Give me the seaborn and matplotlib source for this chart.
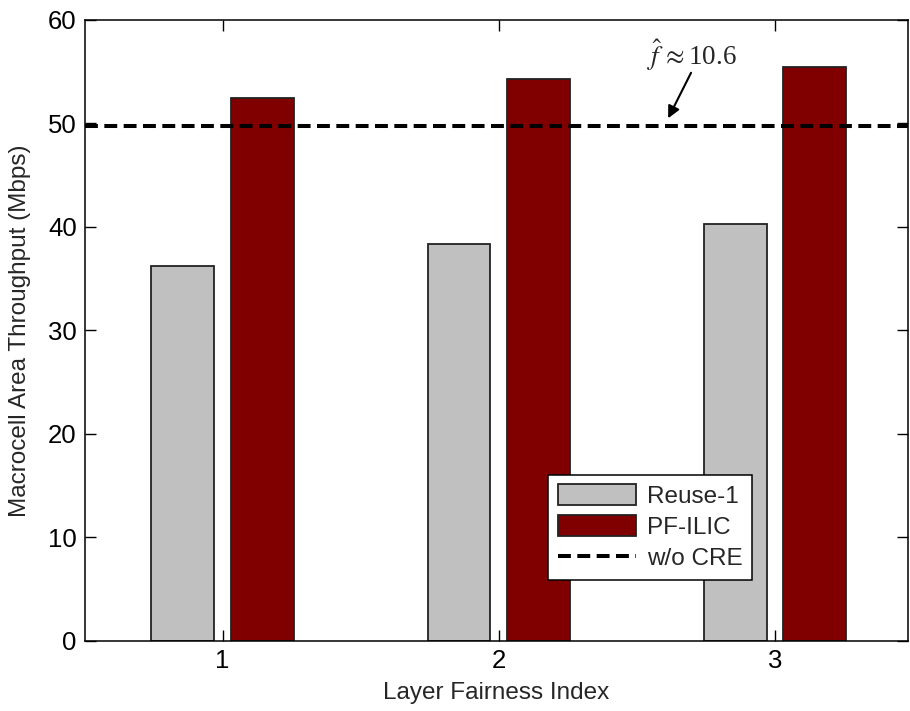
import matplotlib
matplotlib.use("Agg")
import matplotlib.pyplot as plt
import seaborn as sns
import pandas as pd
from matplotlib.patches import Patch
from matplotlib.lines import Line2D

# Macrocell area throughput per layer fairness index
fairness_index = [1, 2, 3]
reuse1 = [36.2, 38.4, 40.3]
pf_ilic = [52.5, 54.3, 55.5]
without_cre = 49.8
schemes = ["Reuse-1", "PF-ILIC"]
colors = ["#C0C0C0", "#800000"]
yticks = [0, 10, 20, 30, 40, 50, 60]

df = pd.DataFrame({
    "index": fairness_index * 2,
    "throughput": reuse1 + pf_ilic,
    "scheme": [schemes[0]] * 3 + [schemes[1]] * 3,
})

sns.set_style("white")
plt.rcParams["font.family"] = ["Liberation Sans", "DejaVu Sans"]
plt.rcParams["mathtext.fontset"] = "stix"

fig = plt.figure(figsize=(9.10, 7.11), dpi=100)
ax = fig.add_axes([0.0934, 0.0985, 0.904, 0.8734])

sns.barplot(data=df, x="index", y="throughput", hue="scheme",
            hue_order=schemes, palette=colors, native_scale=True,
            width=0.576, gap=0.21, edgecolor="#222222", linewidth=1.3,
            saturation=1, legend=False, ax=ax)

ax.axhline(without_cre, color="black", lw=2.9,
           linestyle=(0, (3.2, 1.6)), dash_capstyle="butt", zorder=5)

ax.set_xlim(0.502, 3.48)
ax.set_ylim(0, 60)
ax.set_xticks(fairness_index)
ax.set_xticklabels([str(v) for v in fairness_index])
ax.set_yticks(yticks)
ax.set_xlabel("Layer Fairness Index", fontsize=17.5, labelpad=6)
ax.set_ylabel("Macrocell Area Throughput (Mbps)", fontsize=17.5, labelpad=12)
ax.tick_params(axis="both", which="both", direction="in", length=8,
               width=1, labelsize=18.5, top=True, right=True,
               bottom=True, left=True, pad=6, colors="black")
for sp in ax.spines.values():
    sp.set_visible(True)
    sp.set_color("black")
    sp.set_linewidth(1.1)

# estimate label and pointer to the reference line
ax.text(2.70, 55.65, r"$\hat{f}\,\approx$10.6", ha="center", va="baseline",
        fontsize=19.5, family="Liberation Serif")
ax.annotate("", xy=(2.613, 50.5), xytext=(2.696, 54.9),
            arrowprops=dict(arrowstyle="-|>", color="black", lw=1.5,
                            mutation_scale=18, shrinkA=0, shrinkB=0))

handles = [
    Patch(facecolor=colors[0], edgecolor="#222222", linewidth=1.3, label=schemes[0]),
    Patch(facecolor=colors[1], edgecolor="#222222", linewidth=1.3, label=schemes[1]),
    Line2D([0], [0], color="black", lw=2.9, linestyle=(0, (3.2, 1.6)),
           dash_capstyle="butt", label="w/o CRE"),
]
leg = ax.legend(handles=handles, loc="lower right",
                bbox_to_anchor=(0.811, 0.098), fontsize=17.5,
                frameon=True, fancybox=False, framealpha=1,
                edgecolor="black", handlelength=3.2, handleheight=0.95,
                handletextpad=0.45, labelspacing=0.3, borderpad=0.4,
                borderaxespad=0)
leg.get_frame().set_linewidth(1.1)

fig.savefig("out.png", dpi=100)
